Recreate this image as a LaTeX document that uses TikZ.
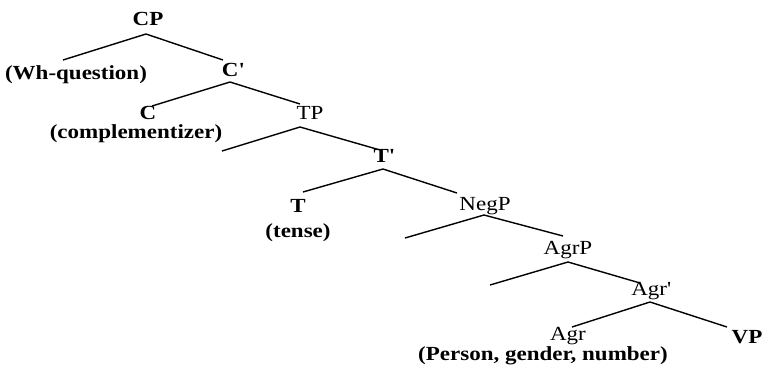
\documentclass[tikz,border=0pt]{standalone}
\usepackage{fontspec}
\setmainfont[FakeStretch=1.15]{Liberation Serif}
\begin{document}
\begin{tikzpicture}[x=1pt,y=-1pt,
  lab/.style={inner sep=0pt,font=\fontsize{20}{21}\selectfont\bfseries},
  labr/.style={inner sep=0pt,font=\fontsize{20}{21}\selectfont},
  br/.style={line width=1.4pt}]
\useasboundingbox[fill=white] (0,0) rectangle (765,367);
% labels
\node[lab]  (CP)   at (148,19)  {CP};
\node[lab]  (wh)   at (76,75)   {(Wh-question)};
\node[lab]  (Cb)   at (233,70)  {C\textquotesingle};
\node[lab]  (C)    at (148,113) {C};
\node[lab]  (comp) at (136,134) {(complementizer)};
\node[labr] (TP)   at (310,113) {TP};
\node[lab]  (Tb)   at (384,156) {T\textquotesingle};
\node[lab]  (T)    at (298,206) {T};
\node[lab]  (tense) at (298,233) {(tense)};
\node[labr] (NegP) at (485,206) {NegP};
\node[labr] (AgrP) at (568,250) {AgrP};
\node[labr] (Agrb) at (651,291) {Agr\textquotesingle};
\node[labr] (Agr)  at (568,336) {Agr};
\node[lab]  (VP)   at (747,337) {VP};
\node[lab]  (pgn)  at (543,356) {(Person, gender, number)};
% branch points
\coordinate (CPa) at (146,34);  \coordinate (CPl) at (63,60);   \coordinate (CPr) at (223,60);
\coordinate (Cba) at (230,82);  \coordinate (Cbl) at (152,106); \coordinate (Cbr) at (300,104);
\coordinate (TPa) at (300,127); \coordinate (TPl) at (222,151); \coordinate (TPr) at (380,150);
\coordinate (Tba) at (383,169); \coordinate (Tbl) at (303,192); \coordinate (Tbr) at (457,193);
\coordinate (Nga) at (484,215); \coordinate (Ngl) at (405,238); \coordinate (Ngr) at (563,236);
\coordinate (Aga) at (568,262); \coordinate (Agl) at (490,285); \coordinate (Agr) at (640,283);
\coordinate (Aba) at (650,302); \coordinate (Abl) at (572,327); \coordinate (Abr) at (727,327);
\draw[br] (CPl) -- (CPa) -- (CPr);
\draw[br] (Cbl) -- (Cba) -- (Cbr);
\draw[br] (TPl) -- (TPa) -- (TPr);
\draw[br] (Tbl) -- (Tba) -- (Tbr);
\draw[br] (Ngl) -- (Nga) -- (Ngr);
\draw[br] (Agl) -- (Aga) -- (Agr);
\draw[br] (Abl) -- (Aba) -- (Abr);
\end{tikzpicture}
\end{document}
